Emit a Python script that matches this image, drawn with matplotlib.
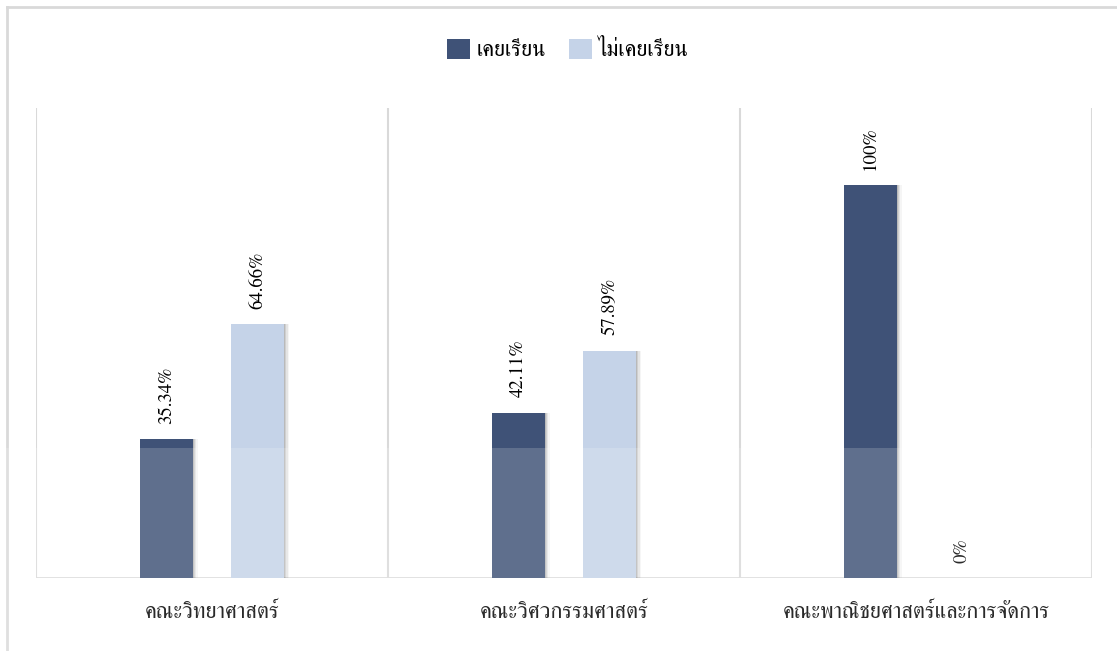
import numpy
import matplotlib
matplotlib.use("Agg")
from matplotlib import pyplot as plt
import matplotlib.patches as patches
from matplotlib.lines import Line2D

# data
categories = ["คณะวิทยาศาสตร์", "คณะวิศวกรรมศาสตร์", "คณะพาณิชยศาสตร์และการจัดการ"]
series_names = ["เคยเรียน", "ไม่เคยเรียน"]
studied = [35.34, 42.11, 100]
not_studied = [64.66, 57.89, 0]
value_labels_studied = ["35.34%", "42.11%", "100%"]
value_labels_not = ["64.66%", "57.89%", "0%"]

dark = "#3f5277"
light = "#c5d3e8"
grid_col = "#d9d9d9"

plt.rcParams['font.family'] = ['FreeSerif', 'DejaVu Sans']

fig = plt.figure(figsize=(11.17, 6.51), dpi=100)
ax = fig.add_axes([36 / 1117, 73 / 651, 1056 / 1117, 470 / 651])

x = numpy.arange(len(categories))
bar_w = 0.15
off = 0.13

# soft shadow on the right of each bar
for shift, a in [(0.014, 0.06), (0.010, 0.10), (0.006, 0.14), (0.003, 0.18)]:
    ax.bar(x - off + shift, studied, bar_w, color="#555555", alpha=a, zorder=2, linewidth=0)
    ax.bar(x + off + shift, not_studied, bar_w, color="#555555", alpha=a, zorder=2, linewidth=0)

ax.bar(x - off, studied, bar_w, color=dark, zorder=3, linewidth=0)
ax.bar(x + off, not_studied, bar_w, color=light, zorder=3, linewidth=0)

for i in range(len(categories)):
    ax.annotate(value_labels_studied[i], (x[i] - off, studied[i]), xytext=(0, 11),
                textcoords="offset points", rotation=90, ha="center", va="bottom", fontsize=13.5)
    ax.annotate(value_labels_not[i], (x[i] + off, not_studied[i]), xytext=(0, 11),
                textcoords="offset points", rotation=90, ha="center", va="bottom", fontsize=13.5)

ax.set_xlim(-0.5, 2.5)
ax.set_ylim(0, 119.6)
for sep in [-0.5, 0.5, 1.5, 2.5]:
    ax.axvline(sep, color=grid_col, lw=1.5, zorder=1)
ax.axhline(0, color=grid_col, lw=2, zorder=1)

for s in ax.spines.values():
    s.set_visible(False)
ax.set_yticks([])
ax.set_xticks(x)
ax.set_xticklabels(categories, fontsize=16)
ax.tick_params(axis="x", length=0, pad=18)

handles = [patches.Patch(facecolor=dark, label=series_names[0]),
           patches.Patch(facecolor=light, label=series_names[1])]
fig.legend(handles=handles, loc="center", bbox_to_anchor=(568 / 1117, 1 - 50 / 651), ncol=2,
           frameon=False, fontsize=16, handlelength=1.05, handleheight=1.05,
           handletextpad=0.27, columnspacing=1.05)

# outer frame (left and top edges visible)
fig.add_artist(Line2D([7 / 1117, 7 / 1117], [0, 1 - 7 / 651], color=grid_col, lw=2))
fig.add_artist(Line2D([7 / 1117, 1], [1 - 7 / 651, 1 - 7 / 651], color=grid_col, lw=2))

# faint white wash over the lower part of the page
fig.add_artist(patches.Rectangle((0, 0), 1, 203 / 651, transform=fig.transFigure,
                                 facecolor="white", alpha=0.17, edgecolor="none", zorder=10))

fig.savefig("out.png")
